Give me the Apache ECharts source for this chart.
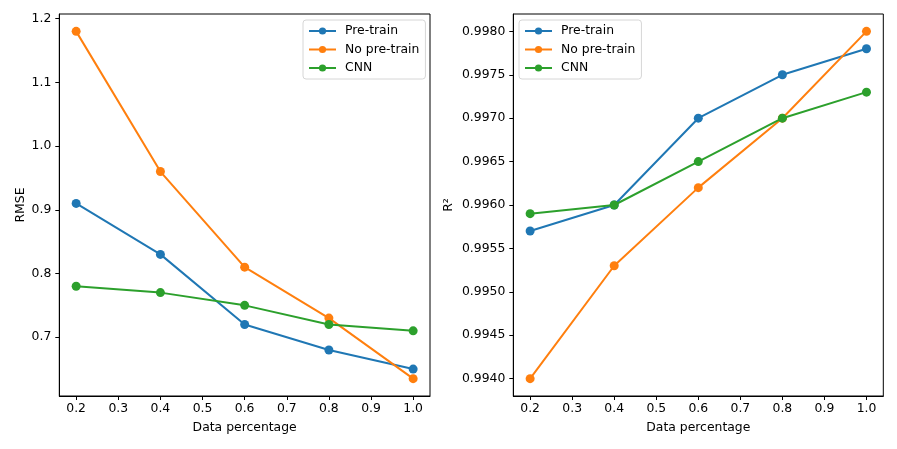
<!DOCTYPE html>
<html><head><meta charset="utf-8">
<script src="https://cdn.jsdelivr.net/npm/echarts@6/dist/echarts.min.js"></script>
<style>html,body{margin:0;padding:0;background:#fff}#c{width:897px;height:449px}</style>
</head><body><div id="c"></div>
<script>
const xData = [0.2, 0.4, 0.6, 0.8, 1.0];
const seriesNames = ['Pre-train', 'No pre-train', 'CNN'];
const rmsePre = [0.91, 0.83, 0.72, 0.68, 0.65];
const rmseNoPre = [1.18, 0.96, 0.81, 0.73, 0.635];
const rmseCNN = [0.78, 0.77, 0.75, 0.72, 0.71];
const r2Pre = [0.9957, 0.9960, 0.9970, 0.9975, 0.9978];
const r2NoPre = [0.9940, 0.9953, 0.9962, 0.9970, 0.9980];
const r2CNN = [0.9959, 0.9960, 0.9965, 0.9970, 0.9973];
const xTicks = [0.2, 0.3, 0.4, 0.5, 0.6, 0.7, 0.8, 0.9, 1.0];
const rmseTicks = [0.7, 0.8, 0.9, 1.0, 1.1, 1.2];
const r2Ticks = [0.9940, 0.9945, 0.9950, 0.9955, 0.9960, 0.9965, 0.9970, 0.9975, 0.9980];

const colors = ['#1f77b4', '#ff7f0e', '#2ca02c'];
const font = 'DejaVu Sans';
const fs = 12.4;

function zip(ys) { return xData.map((x, i) => [x, ys[i]]); }

function xAxis(gi) {
  return {
    gridIndex: gi, type: 'value', min: 0.16, max: 1.04,
    name: 'Data percentage', nameLocation: 'middle', nameGap: 26,
    nameTextStyle: { fontFamily: font, fontSize: fs, color: '#000' },
    axisLine: { show: true, lineStyle: { color: '#000', width: 1 } },
    axisTick: { show: true, length: 4, lineStyle: { color: '#000' }, customValues: xTicks },
    axisLabel: { fontFamily: font, fontSize: fs, color: '#000', margin: 7, customValues: xTicks,
      formatter: v => v.toFixed(1) },
    splitLine: { show: false }
  };
}
function yAxis(gi, min, max, ticks, dec, name, gap) {
  return {
    gridIndex: gi, type: 'value', min: min, max: max,
    name: name, nameLocation: 'middle', nameGap: gap,
    nameTextStyle: { fontFamily: font, fontSize: fs, color: '#000' },
    axisLine: { show: true, lineStyle: { color: '#000', width: 1 } },
    axisTick: { show: true, length: 4, lineStyle: { color: '#000' }, customValues: ticks },
    axisLabel: { fontFamily: font, fontSize: fs, color: '#000', margin: 8, customValues: ticks,
      formatter: v => v.toFixed(dec) },
    splitLine: { show: false }
  };
}
function ser(name, data, ci, gi) {
  return {
    name: name, type: 'line', xAxisIndex: gi, yAxisIndex: gi, data: zip(data),
    symbol: 'circle', symbolSize: 9, showSymbol: true,
    lineStyle: { color: colors[ci], width: 2 },
    itemStyle: { color: colors[ci] },
    animation: false, z: 3 + ci
  };
}
function legend(left) {
  return {
    data: seriesNames, orient: 'vertical', left: left, top: 20,
    itemWidth: 27, itemHeight: 9, itemGap: 6.5,
    padding: [5, 6, 5, 5],
    backgroundColor: 'rgba(255,255,255,0.8)', borderColor: '#d6d6d6', borderWidth: 1, borderRadius: 3,
    textStyle: { fontFamily: font, fontSize: fs, color: '#000', padding: [0, 0, 0, 4] }
  };
}

const chart = echarts.init(document.getElementById('c'), null, { renderer: 'canvas' });
chart.setOption({
  animation: false,
  backgroundColor: '#fff',
  color: colors,
  grid: [
    { left: 59.3, top: 14, width: 370.7, height: 382, show: true, borderColor: '#000', borderWidth: 1, containLabel: false },
    { left: 513.3, top: 14, width: 370, height: 382, show: true, borderColor: '#000', borderWidth: 1, containLabel: false }
  ],
  legend: [legend(303), legend(519)],
  xAxis: [xAxis(0), xAxis(1)],
  yAxis: [
    yAxis(0, 0.60775, 1.20725, rmseTicks, 1, 'RMSE', 33),
    yAxis(1, 0.9938, 0.9982, r2Ticks, 4, 'R²', 59)
  ],
  series: [
    ser('Pre-train', rmsePre, 0, 0),
    ser('No pre-train', rmseNoPre, 1, 0),
    ser('CNN', rmseCNN, 2, 0),
    ser('Pre-train', r2Pre, 0, 1),
    ser('No pre-train', r2NoPre, 1, 1),
    ser('CNN', r2CNN, 2, 1)
  ]
});
</script></body></html>
